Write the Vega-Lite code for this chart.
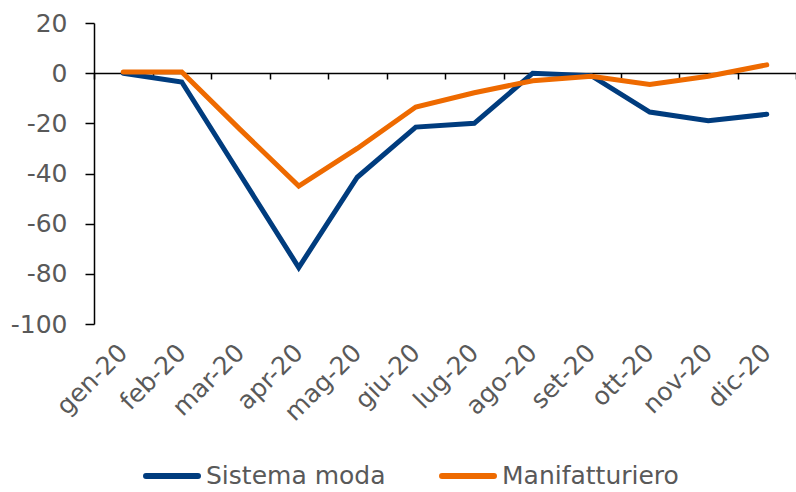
{
  "$schema": "https://vega.github.io/schema/vega-lite/v6.json",
  "width": 702,
  "height": 301,
  "autosize": "none",
  "padding": {"left": 94, "top": 23, "right": 0, "bottom": 168},
  "background": "white",
  "config": {
    "view": {"stroke": null},
    "font": "DejaVu Sans",
    "axis": {"labelFont": "DejaVu Sans", "labelColor": "#595959", "labelFontSize": 25, "grid": false, "domainColor": "#000000", "tickColor": "#000000", "domainWidth": 1.5, "tickWidth": 1.5},
    "axisY": {"labelPadding": 18, "tickSize": 9},
    "legend": {"labelFont": "DejaVu Sans", "labelColor": "#595959", "labelFontSize": 25, "symbolStrokeWidth": 6, "labelLimit": 400}
  },
  "data": {
    "values": [
      {"mese": "gen-20", "serie": "Sistema moda", "valore": 0},
      {"mese": "feb-20", "serie": "Sistema moda", "valore": -3.5},
      {"mese": "mar-20", "serie": "Sistema moda", "valore": -40.5},
      {"mese": "apr-20", "serie": "Sistema moda", "valore": -77.5},
      {"mese": "mag-20", "serie": "Sistema moda", "valore": -41.5},
      {"mese": "giu-20", "serie": "Sistema moda", "valore": -21.5},
      {"mese": "lug-20", "serie": "Sistema moda", "valore": -20},
      {"mese": "ago-20", "serie": "Sistema moda", "valore": 0},
      {"mese": "set-20", "serie": "Sistema moda", "valore": -1},
      {"mese": "ott-20", "serie": "Sistema moda", "valore": -15.5},
      {"mese": "nov-20", "serie": "Sistema moda", "valore": -19},
      {"mese": "dic-20", "serie": "Sistema moda", "valore": -16.4},
      {"mese": "gen-20", "serie": "Manifatturiero", "valore": 0.5},
      {"mese": "feb-20", "serie": "Manifatturiero", "valore": 0.5},
      {"mese": "mar-20", "serie": "Manifatturiero", "valore": -22.5},
      {"mese": "apr-20", "serie": "Manifatturiero", "valore": -45},
      {"mese": "mag-20", "serie": "Manifatturiero", "valore": -30},
      {"mese": "giu-20", "serie": "Manifatturiero", "valore": -13.5},
      {"mese": "lug-20", "serie": "Manifatturiero", "valore": -7.8},
      {"mese": "ago-20", "serie": "Manifatturiero", "valore": -3},
      {"mese": "set-20", "serie": "Manifatturiero", "valore": -1.2},
      {"mese": "ott-20", "serie": "Manifatturiero", "valore": -4.5},
      {"mese": "nov-20", "serie": "Manifatturiero", "valore": -1.2},
      {"mese": "dic-20", "serie": "Manifatturiero", "valore": 3.3}
    ]
  },
  "layer": [
    {
      "mark": {"type": "line", "opacity": 0},
      "encoding": {
        "x": {"field": "mese", "type": "ordinal", "sort": null, "bandPosition": 0.5,
          "scale": {"type": "band", "paddingInner": 0, "paddingOuter": 0},
          "axis": {"orient": "bottom", "offset": -251, "labels": false, "title": null, "domain": true, "ticks": true, "tickSize": 6, "tickBand": "extent"}},
        "y": {"field": "valore", "type": "quantitative", "scale": {"domain": [-100, 20], "nice": false},
          "axis": {"values": [-100, -80, -60, -40, -20, 0, 20], "title": null, "domain": true, "ticks": true, "labelExpr": "replace(datum.label, '−', '-')"}},
        "detail": {"field": "serie"}
      }
    },
    {
      "mark": {"type": "line", "strokeWidth": 5, "strokeCap": "round", "strokeJoin": "miter"},
      "encoding": {
        "x": {"field": "mese", "type": "ordinal", "sort": null, "bandPosition": 0.5,
          "axis": {"orient": "bottom", "labels": true, "domain": false, "ticks": false, "title": null, "labelAngle": -45, "labelAlign": "right", "labelBaseline": "middle", "labelPadding": 24}},
        "y": {"field": "valore", "type": "quantitative",
          "axis": {"values": [-100, -80, -60, -40, -20, 0, 20], "title": null, "domain": true, "ticks": true, "labelExpr": "replace(datum.label, '−', '-')"}},
        "color": {"field": "serie", "type": "nominal",
          "scale": {"domain": ["Sistema moda", "Manifatturiero"], "range": ["#003C7E", "#EE6A00"]},
          "legend": {"title": null, "orient": "none", "legendX": 49, "legendY": 424, "direction": "horizontal", "symbolType": "stroke", "symbolSize": 2700, "symbolStrokeWidth": 6, "labelOffset": 5, "columnPadding": 44, "labelLimit": 400,
            "encode": {"symbols": {"update": {"strokeWidth": {"value": 6}, "strokeCap": {"value": "round"}}}}}}
      }
    }
  ],
  "resolve": {"axis": {"x": "independent"}}
}
